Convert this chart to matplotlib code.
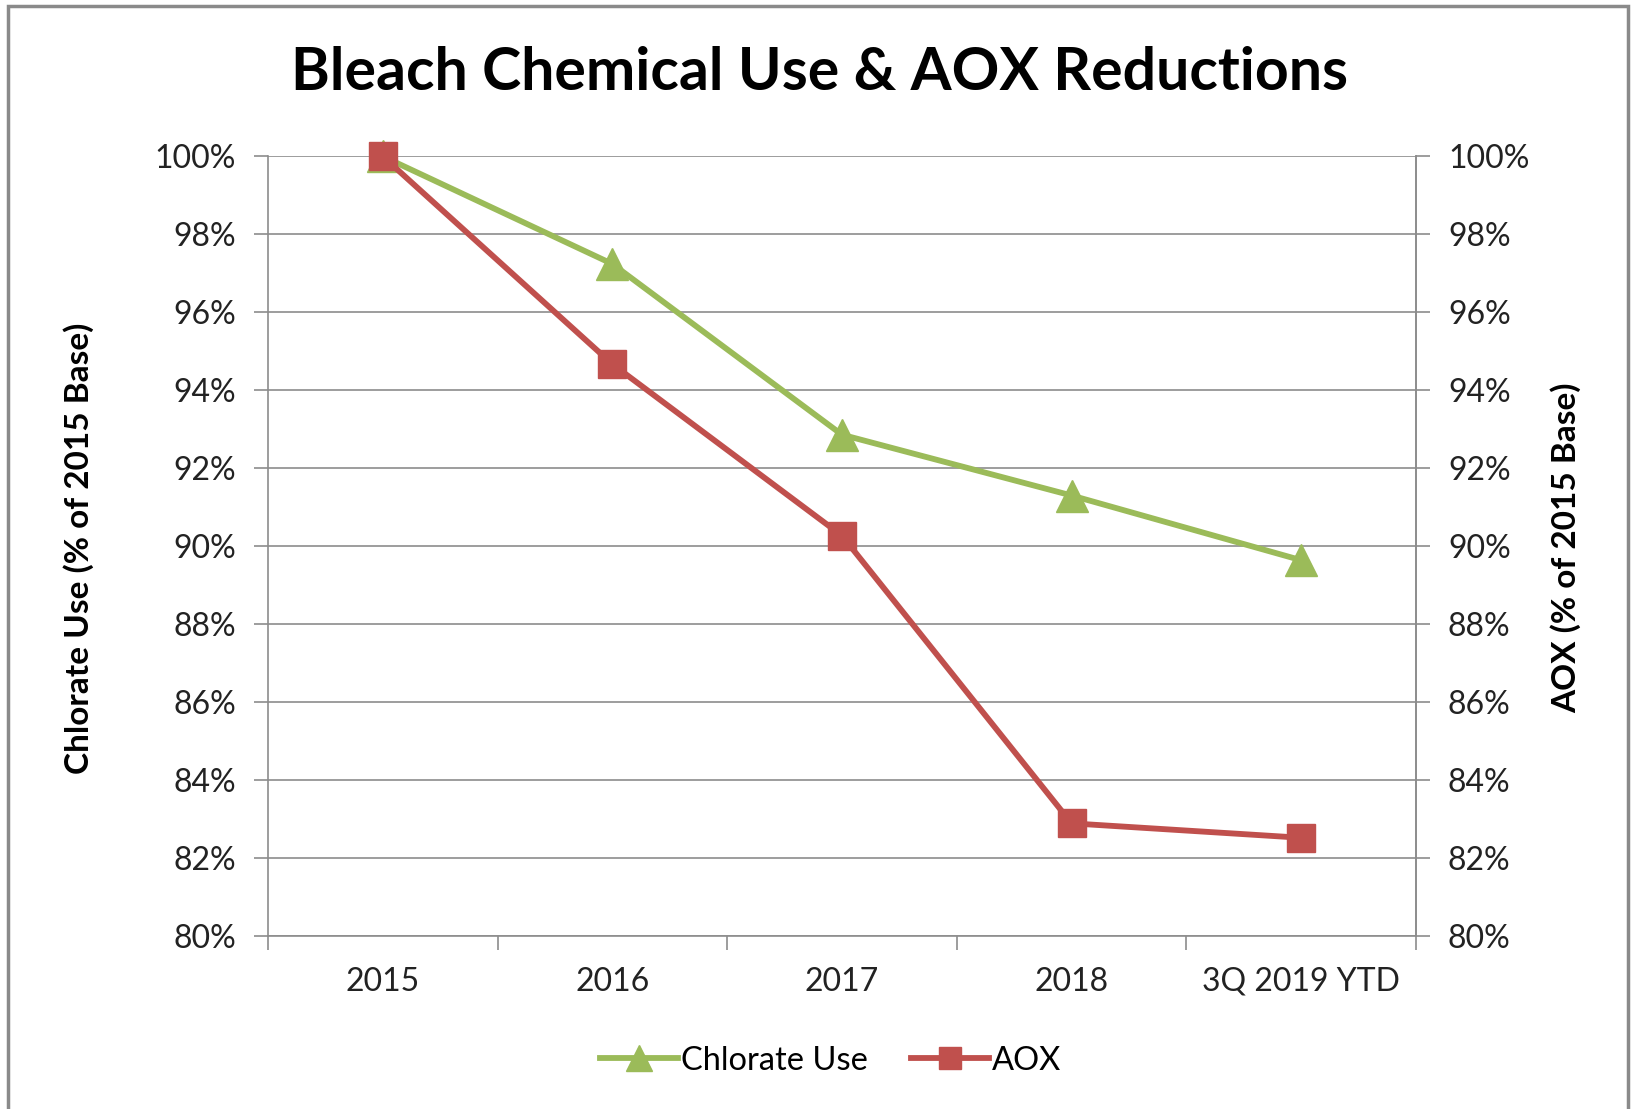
import matplotlib.pyplot as plt
from matplotlib.patches import Rectangle
from matplotlib.ticker import FuncFormatter

# data
years = ["2015", "2016", "2017", "2018", "3Q 2019 YTD"]
chlorate = [100.0, 97.24, 92.86, 91.3, 89.64]
aox = [100.0, 94.67, 90.27, 82.89, 82.52]

green = "#9BBB59"
red = "#C0504D"
grid_col = "#8C8C8C"

plt.rcParams["font.family"] = ["Lato", "DejaVu Sans"]

fig = plt.figure(figsize=(16.36, 11.09), dpi=100)
fig.patches.append(Rectangle((0.005, -0.01), 0.99, 1.005, transform=fig.transFigure,
                             fill=False, edgecolor="#8A8A8A", linewidth=2.5))

ax = fig.add_axes([0.1638, 0.156, 0.7017, 0.703])
x = list(range(len(years)))

ax.plot(x, chlorate, color=green, lw=4.2, marker="^", markersize=23, label="Chlorate Use",
        zorder=3, clip_on=False)
ax.plot(x, aox, color=red, lw=4.2, marker="s", markersize=20, label="AOX", zorder=4,
        clip_on=False)

ax.set_xlim(-0.5, len(years) - 0.5)
ax.set_ylim(80, 100)
ax.set_yticks(range(80, 101, 2))
pct = FuncFormatter(lambda v, p: f"{v:.0f}%")
ax.yaxis.set_major_formatter(pct)
ax.set_xticks(x)
ax.set_xticklabels(years)
ax.set_xticks([i - 0.5 for i in range(len(years) + 1)], minor=True)
ax.tick_params(axis="x", which="major", length=0, labelsize=23, pad=22, colors="#222222")
ax.tick_params(axis="x", which="minor", length=10, width=1.2, color=grid_col, direction="out")
ax.tick_params(axis="y", length=10, width=1.2, color=grid_col, labelsize=23, pad=13,
               labelcolor="#222222")
ax.grid(axis="y", color=grid_col, lw=1.2)
ax.set_axisbelow(True)
ax.spines["top"].set_visible(False)
for s in ["left", "right", "bottom"]:
    ax.spines[s].set_color(grid_col)
    ax.spines[s].set_linewidth(1.2)

ax2 = ax.twinx()
ax2.set_ylim(80, 100)
ax2.set_yticks(range(80, 101, 2))
ax2.yaxis.set_major_formatter(pct)
ax2.tick_params(axis="y", length=10, width=1.2, color=grid_col, labelsize=23, pad=13,
                labelcolor="#222222")
for s in ["top", "left", "bottom"]:
    ax2.spines[s].set_visible(False)
ax2.spines["right"].set_color(grid_col)
ax2.spines["right"].set_linewidth(1.2)
ax2.set_zorder(ax.get_zorder() - 1)
ax.patch.set_visible(False)

fig.text(0.048, 0.506, "Chlorate Use (% of 2015 Base)", rotation=90, ha="center",
         va="center", fontsize=24, fontweight="bold")
fig.text(0.957, 0.506, "AOX (% of 2015 Base)", rotation=90, ha="center",
         va="center", fontsize=24, fontweight="bold")

fig.text(0.501, 0.934, "Bleach Chemical Use & AOX Reductions", ha="center", va="center",
         fontsize=42.5, fontweight="bold")

ax.legend(loc="center", bbox_to_anchor=(0.49, -0.16), ncol=2, frameon=False, fontsize=23.5,
          handlelength=2.4, handletextpad=0.1, columnspacing=1.3, markerscale=0.8)

fig.savefig("out.png", dpi=100)
